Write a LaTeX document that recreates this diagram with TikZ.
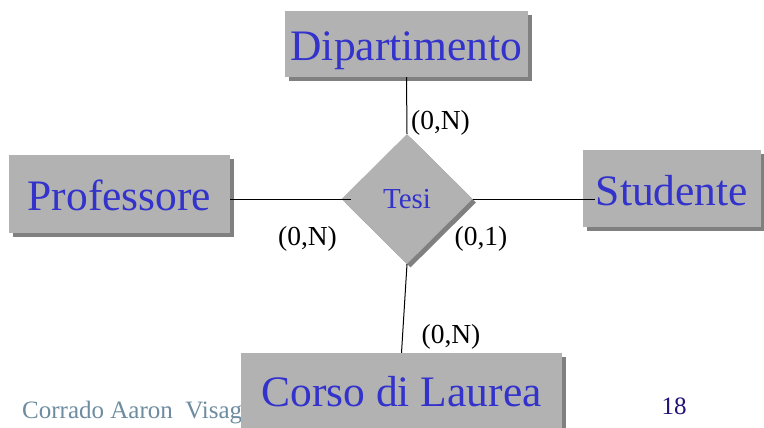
\documentclass[tikz,border=0pt]{standalone}
\usepackage{fontspec}
\setmainfont{Liberation Serif}
\usetikzlibrary{shapes.geometric,shadows}
\definecolor{entblue}{RGB}{51,51,204}
\definecolor{boxgray}{RGB}{178,178,178}
\definecolor{shadowgray}{RGB}{128,128,128}
\definecolor{footgray}{RGB}{110,140,160}
\definecolor{pagenavy}{RGB}{34,17,119}
\begin{document}
\begin{tikzpicture}[x=1pt,y=-1pt,
  entity/.style={rectangle, fill=boxgray, inner sep=0pt, anchor=base, text=entblue,
    font=\fontsize{43.5}{50}\selectfont,
    drop shadow={shadow xshift=4pt, shadow yshift=-4pt, fill=shadowgray, opacity=1}},
  relation/.style={diamond, fill=boxgray, inner sep=0pt, minimum width=131pt, minimum height=130pt,
    text=entblue, font=\fontsize{29}{34}\selectfont,
    drop shadow={shadow xshift=3.5pt, shadow yshift=-3.5pt, fill=shadowgray, opacity=1}},
  card/.style={anchor=base, inner sep=0pt, font=\fontsize{27.5}{32}\selectfont},
  conn/.style={draw=black, line width=1pt}]
\useasboundingbox (0,0) rectangle (764,428);
\fill[white] (0,0) rectangle (764,428);
% footer
\node[anchor=base west, inner sep=0pt, text=footgray, font=\fontsize{25}{30}\selectfont] (author) at (22,418) {Corrado Aaron\ \ Visaggio};
\node[anchor=base, inner sep=0pt, text=pagenavy, font=\fontsize{25}{30}\selectfont] (pagenum) at (674,414) {18};
% entities
\node[entity, minimum width=243pt, text height=49.3pt, text depth=16.7pt] (dip) at (406.5,60.3) {Dipartimento};
\node[entity, minimum width=221pt, text height=55pt, text depth=23pt] (prof) at (119.5,210) {Professore};
\node[entity, minimum width=178pt, text height=55pt, text depth=22pt] (stud) at (672,205) {Studente};
\node[entity, minimum width=321pt, text height=53.7pt, text depth=30pt] (corso) at (401.5,406.7) {Corso di Laurea};
% relationship
\node[relation] (tesi) at (407,199) {Tesi};
% connectors
\draw[conn] (dip.south) -- (tesi.north);
\draw[conn] (tesi.west -| prof.east) -- ([xshift=10pt]tesi.west);
\draw[conn] (tesi.east) -- ([xshift=12pt]tesi.east -| stud.west);
\draw[conn] (tesi.south) -- (corso.north);
% cardinalities
\node[card] (cdip) at (440.5,130) {(0,N)};
\node[card] (cprof) at (307.5,245) {(0,N)};
\node[card] (cstud) at (481,245) {(0,1)};
\node[card] (ccorso) at (451,343) {(0,N)};
\end{tikzpicture}
\end{document}
